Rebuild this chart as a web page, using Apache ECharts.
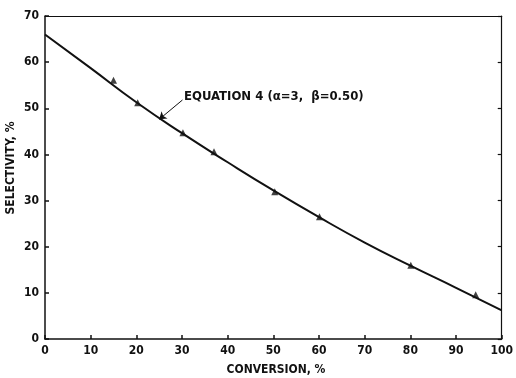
<!DOCTYPE html>
<html><head><meta charset="utf-8">
<script src="https://cdn.jsdelivr.net/npm/echarts@6/dist/echarts.min.js"></script>
<style>html,body{margin:0;padding:0;background:#fff}#c{width:516px;height:378px}</style>
</head><body><div id="c"></div>
<script>
const curveX = [0, 10, 20, 30, 40, 50, 60, 70, 80, 90, 100];
const curveY = [66.0, 58.7, 51.3, 44.6, 38.3, 32.2, 26.4, 20.9, 15.9, 11.1, 6.2];
const pointX = [15, 20.3, 30.2, 37, 50.3, 60.1, 80.1, 94.3];
const pointY = [56.1, 51.2, 44.7, 40.6, 31.9, 26.5, 16.0, 9.6];
const arrowFrom = [30.1, 51.8];
const arrowTo = [25.0, 47.6];
const FONT = '"Liberation Sans Narrow","DejaVu Sans Condensed","Liberation Sans",sans-serif';

const chart = echarts.init(document.getElementById('c'), null, {renderer: 'canvas'});
const axisLabel = {color: '#111', fontFamily: FONT, fontWeight: 'bold', fontSize: 12};
chart.setOption({
  animation: false,
  backgroundColor: '#fff',
  grid: {left: 45, right: 11, top: 16, bottom: 39},
  xAxis: [
    {type: 'value', min: 0, max: 100, interval: 10, position: 'bottom',
     axisLine: {onZero: false, lineStyle: {color: '#111', width: 1.5}},
     axisTick: {inside: true, length: 4, lineStyle: {color: '#111', width: 1.5}},
     axisLabel: Object.assign({margin: 6}, axisLabel), splitLine: {show: false}},
    {type: 'value', min: 0, max: 100, position: 'top',
     axisLine: {show: true, onZero: false, lineStyle: {color: '#111', width: 1.2}},
     axisTick: {show: false}, axisLabel: {show: false}, splitLine: {show: false}}
  ],
  yAxis: [
    {type: 'value', min: 0, max: 70, interval: 10, position: 'left',
     axisLine: {show: true, onZero: false, lineStyle: {color: '#111', width: 1.5}},
     axisTick: {show: true, inside: true, length: 4, lineStyle: {color: '#111', width: 1.5}},
     axisLabel: Object.assign({margin: 6}, axisLabel), splitLine: {show: false}},
    {type: 'value', min: 0, max: 70, interval: 10, position: 'right',
     axisLine: {show: true, onZero: false, lineStyle: {color: '#111', width: 1.2}},
     axisTick: {show: true, inside: true, length: 4, lineStyle: {color: '#111', width: 1.2}},
     axisLabel: {show: false}, splitLine: {show: false}}
  ],
  graphic: [
    {type: 'text', x: 276, y: 370, style: {text: 'CONVERSION, %', fill: '#111', font: 'bold 12px ' + FONT, textAlign: 'center', textVerticalAlign: 'middle'}},
    {type: 'text', x: 11, y: 168, rotation: Math.PI / 2, originX: 0, originY: 0,
     style: {text: 'SELECTIVITY, %', fill: '#111', font: 'bold 12px ' + FONT, textAlign: 'center', textVerticalAlign: 'middle'}},
    {type: 'text', x: 184, y: 97, style: {text: 'EQUATION 4 (α=3,  β=0.50)', fill: '#111', font: 'bold 13px ' + FONT, textVerticalAlign: 'middle'}}
  ],
  series: [
    {type: 'line', data: curveX.map((x, i) => [x, curveY[i]]), smooth: true, symbol: 'none',
     lineStyle: {color: '#111', width: 2},
     markLine: {silent: true, symbol: ['none', 'arrow'], symbolSize: 7, label: {show: false},
       lineStyle: {color: '#111', width: 1, type: 'solid'},
       data: [[{coord: arrowFrom}, {coord: arrowTo}]]}},
    {type: 'scatter', data: pointX.map((x, i) => [x, pointY[i]]), symbol: 'triangle', symbolSize: 7,
     itemStyle: {color: '#111'}}
  ]
});
</script></body></html>
